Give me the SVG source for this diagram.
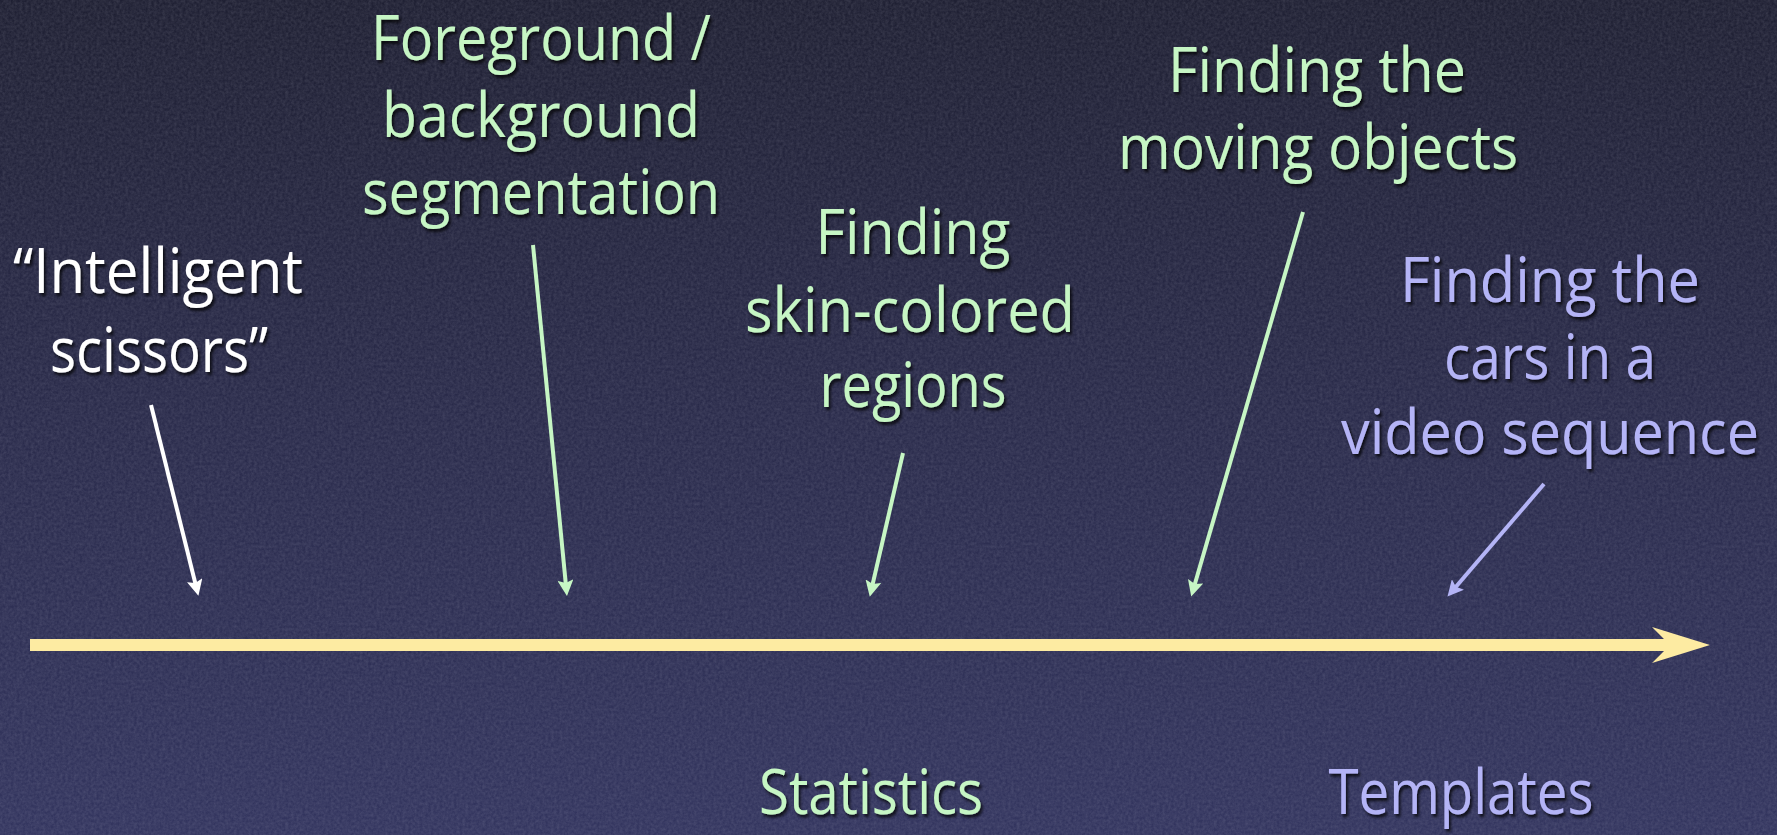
<svg xmlns="http://www.w3.org/2000/svg" width="1777" height="835" viewBox="0 0 1777 835">
  <defs>
    <linearGradient id="bg" x1="0" y1="0" x2="0" y2="1">
      <stop offset="0" stop-color="#1f2033"/>
      <stop offset="0.5" stop-color="#2a2b4b"/>
      <stop offset="1" stop-color="#33355f"/>
    </linearGradient>
    <filter id="grain" x="0" y="0" width="100%" height="100%">
      <feTurbulence type="fractalNoise" baseFrequency="0.35" numOctaves="3" seed="4" result="n"/>
      <feColorMatrix in="n" type="matrix" values="0 0 0 0 0.75  0 0 0 0 0.75  0 0 0 0 0.85  0 0 0 0.18 -0.04"/>
    </filter>
    <filter id="shadow" x="-10%" y="-20%" width="120%" height="150%">
      <feDropShadow dx="2" dy="3" stdDeviation="1.5" flood-color="#000000" flood-opacity="0.75"/>
    </filter>
    <marker id="hw" viewBox="0 0 16 16" refX="6" refY="8" markerWidth="16" markerHeight="16" markerUnits="userSpaceOnUse" orient="auto">
      <path d="M0,0 L16,8 L0,16 L3,8 z" fill="#ffffff"/>
    </marker>
    <marker id="hg" viewBox="0 0 16 16" refX="6" refY="8" markerWidth="16" markerHeight="16" markerUnits="userSpaceOnUse" orient="auto">
      <path d="M0,0 L16,8 L0,16 L3,8 z" fill="#c6f6c4"/>
    </marker>
    <marker id="hp" viewBox="0 0 16 16" refX="6" refY="8" markerWidth="16" markerHeight="16" markerUnits="userSpaceOnUse" orient="auto">
      <path d="M0,0 L16,8 L0,16 L3,8 z" fill="#b4b4f6"/>
    </marker>
  </defs>
  <style>
    text { font-family: "Open Sans", "Liberation Sans", sans-serif; font-size: 63px; text-anchor: middle; filter: url(#shadow); }
    .w { fill: #ffffff; }
    .g { fill: #c6f6c4; }
    .p { fill: #b4b4f6; }
    .lw { stroke: #ffffff; stroke-width: 4; fill: none; marker-end: url(#hw); }
    .lg { stroke: #c6f6c4; stroke-width: 4; fill: none; marker-end: url(#hg); }
    .lp { stroke: #b4b4f6; stroke-width: 4; fill: none; marker-end: url(#hp); }
  </style>
  <rect x="0" y="0" width="1777" height="835" fill="url(#bg)"/>
  <rect x="0" y="0" width="1777" height="835" filter="url(#grain)"/>

  <g id="timeline">
    <polygon points="30,639 1664,639 1652,627 1710,645 1652,663 1664,651 30,651" fill="#fdeba2"/>
  </g>

  <g id="connectors">
    <line class="lw" x1="151" y1="405" x2="196" y2="586"/>
    <line class="lg" x1="533" y1="245" x2="566" y2="586"/>
    <line class="lg" x1="903" y1="453" x2="872" y2="587"/>
    <line class="lg" x1="1303" y1="212" x2="1194" y2="587"/>
    <line class="lp" x1="1544" y1="484" x2="1454" y2="589"/>
  </g>

  <g id="intelligent-scissors">
    <text class="w" x="158" y="293" textLength="290" lengthAdjust="spacingAndGlyphs">“Intelligent</text>
    <text class="w" x="159" y="372" textLength="218" lengthAdjust="spacingAndGlyphs">scissors”</text>
  </g>

  <g id="fg-bg-segmentation">
    <text class="g" x="541" y="60" textLength="340" lengthAdjust="spacingAndGlyphs">Foreground /</text>
    <text class="g" x="541" y="137" textLength="318" lengthAdjust="spacingAndGlyphs">background</text>
    <text class="g" x="541" y="214" textLength="358" lengthAdjust="spacingAndGlyphs">segmentation</text>
  </g>

  <g id="skin-colored">
    <text class="g" x="913" y="254" textLength="195" lengthAdjust="spacingAndGlyphs">Finding</text>
    <text class="g" x="910" y="332" textLength="330" lengthAdjust="spacingAndGlyphs">skin-colored</text>
    <text class="g" x="913" y="407" textLength="187" lengthAdjust="spacingAndGlyphs">regions</text>
  </g>

  <g id="moving-objects">
    <text class="g" x="1317" y="92" textLength="298" lengthAdjust="spacingAndGlyphs">Finding the</text>
    <text class="g" x="1318" y="169" textLength="400" lengthAdjust="spacingAndGlyphs">moving objects</text>
  </g>

  <g id="cars-video">
    <text class="p" x="1550" y="302" textLength="300" lengthAdjust="spacingAndGlyphs">Finding the</text>
    <text class="p" x="1550" y="379" textLength="212" lengthAdjust="spacingAndGlyphs">cars in a</text>
    <text class="p" x="1550" y="454" textLength="418" lengthAdjust="spacingAndGlyphs">video sequence</text>
  </g>

  <g id="statistics">
    <text class="g" x="871" y="814" textLength="224" lengthAdjust="spacingAndGlyphs">Statistics</text>
  </g>

  <g id="templates">
    <text class="p" x="1461" y="814" textLength="265" lengthAdjust="spacingAndGlyphs">Templates</text>
  </g>
</svg>
